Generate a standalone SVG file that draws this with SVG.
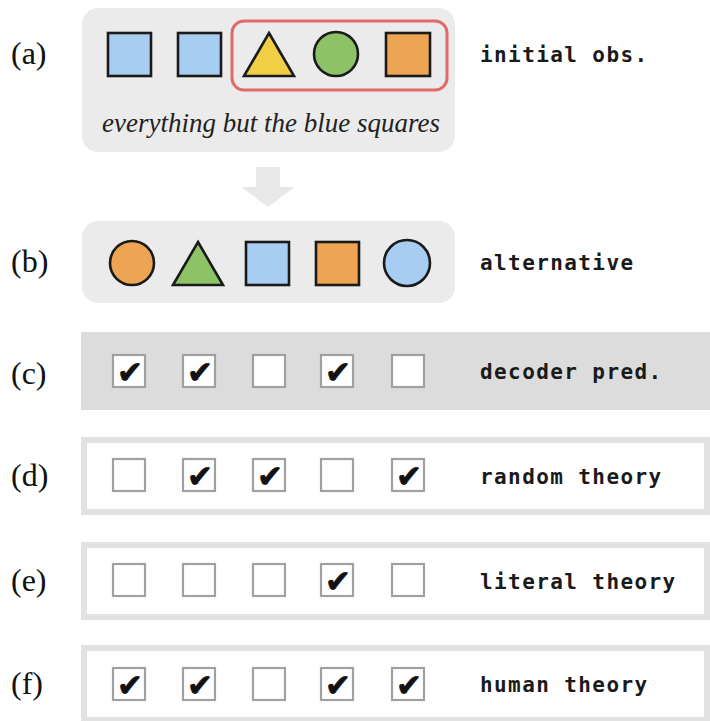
<svg xmlns="http://www.w3.org/2000/svg" width="710" height="721" viewBox="0 0 710 721">
<style>
.lbl{font-family:"Liberation Serif","Times New Roman",serif;font-size:32px;fill:#111}
.mono{font-family:"DejaVu Sans Mono","Liberation Mono",monospace;font-size:21px;font-weight:bold;letter-spacing:1.4px;fill:#1a1a1a}
.panel{fill:#ebebeb}
.shape{stroke:#1a1a1a;stroke-width:2.6}
.blue{fill:#a8cdf3}.orange{fill:#eea553}.green{fill:#8dc266}.yellow{fill:#f1cf45}
.cb{fill:#fff;stroke:#a0a0a0;stroke-width:2.2}
.chk{font-family:"DejaVu Sans",sans-serif;font-size:31px;fill:#111;stroke:#111;stroke-width:0.8;text-anchor:middle}
.frame{fill:#fff;stroke:#e2e2e2;stroke-width:6}
</style>
<defs>
<g id="box"><rect class="cb" x="-16" y="-16" width="32" height="32"/></g>
</defs>

<g id="row-a">
<rect class="panel" x="82" y="8" width="373" height="144" rx="16"/>
<rect x="232" y="21" width="215" height="69" rx="12" fill="none" stroke="#e06a6a" stroke-width="3"/>
<rect class="shape blue" x="108" y="33" width="43" height="43"/>
<rect class="shape blue" x="178" y="33" width="43" height="43"/>
<polygon class="shape yellow" points="269,33 294,76 244,76"/>
<circle class="shape green" cx="336" cy="54" r="22"/>
<rect class="shape orange" x="386" y="33" width="44" height="43"/>
<text x="271" y="132" text-anchor="middle" font-family="Liberation Serif,serif" font-style="italic" font-size="27" fill="#222">everything but the blue squares</text>
<text class="lbl" x="11" y="64">(a)</text>
<text class="mono" x="480" y="62">initial obs.</text>
</g>

<g id="connectors">
<polygon fill="#e8e8e8" points="256,167 280,167 280,187 295,187 268,207 241,187 256,187"/>
</g>

<g id="row-b">
<rect class="panel" x="82" y="221" width="373" height="82" rx="16"/>
<circle class="shape orange" cx="132" cy="263" r="22"/>
<polygon class="shape green" points="198,242 223,285 173,285"/>
<rect class="shape blue" x="246" y="242" width="43" height="43"/>
<rect class="shape orange" x="316" y="242" width="43" height="43"/>
<circle class="shape blue" cx="407" cy="263" r="23"/>
<text class="lbl" x="11" y="272">(b)</text>
<text class="mono" x="480" y="270">alternative</text>
</g>

<g id="row-c">
<rect x="81" y="332" width="629" height="78" fill="#dcdcdc"/>
<use href="#box" x="129" y="371"/><use href="#box" x="199" y="371"/><use href="#box" x="269" y="371"/><use href="#box" x="337" y="371"/><use href="#box" x="408" y="371"/>
<text class="chk" x="130" y="383">✔</text><text class="chk" x="200" y="383">✔</text><text class="chk" x="338" y="383">✔</text>
<text class="lbl" x="11" y="384">(c)</text>
<text class="mono" x="480" y="379">decoder pred.</text>
</g>

<g id="row-d">
<rect class="frame" x="84" y="440" width="623" height="72"/>
<use href="#box" x="129" y="475"/><use href="#box" x="199" y="475"/><use href="#box" x="269" y="475"/><use href="#box" x="337" y="475"/><use href="#box" x="408" y="475"/>
<text class="chk" x="200" y="487">✔</text><text class="chk" x="270" y="487">✔</text><text class="chk" x="409" y="487">✔</text>
<text class="lbl" x="11" y="486">(d)</text>
<text class="mono" x="480" y="484">random theory</text>
</g>

<g id="row-e">
<rect class="frame" x="84" y="545" width="623" height="72"/>
<use href="#box" x="129" y="580"/><use href="#box" x="199" y="580"/><use href="#box" x="269" y="580"/><use href="#box" x="337" y="580"/><use href="#box" x="408" y="580"/>
<text class="chk" x="338" y="592">✔</text>
<text class="lbl" x="11" y="591">(e)</text>
<text class="mono" x="480" y="589">literal theory</text>
</g>

<g id="row-f">
<rect class="frame" x="84" y="648" width="623" height="72"/>
<use href="#box" x="129" y="684"/><use href="#box" x="199" y="684"/><use href="#box" x="269" y="684"/><use href="#box" x="337" y="684"/><use href="#box" x="408" y="684"/>
<text class="chk" x="130" y="696">✔</text><text class="chk" x="200" y="696">✔</text><text class="chk" x="338" y="696">✔</text><text class="chk" x="409" y="696">✔</text>
<text class="lbl" x="11" y="694">(f)</text>
<text class="mono" x="480" y="692">human theory</text>
</g>
</svg>
